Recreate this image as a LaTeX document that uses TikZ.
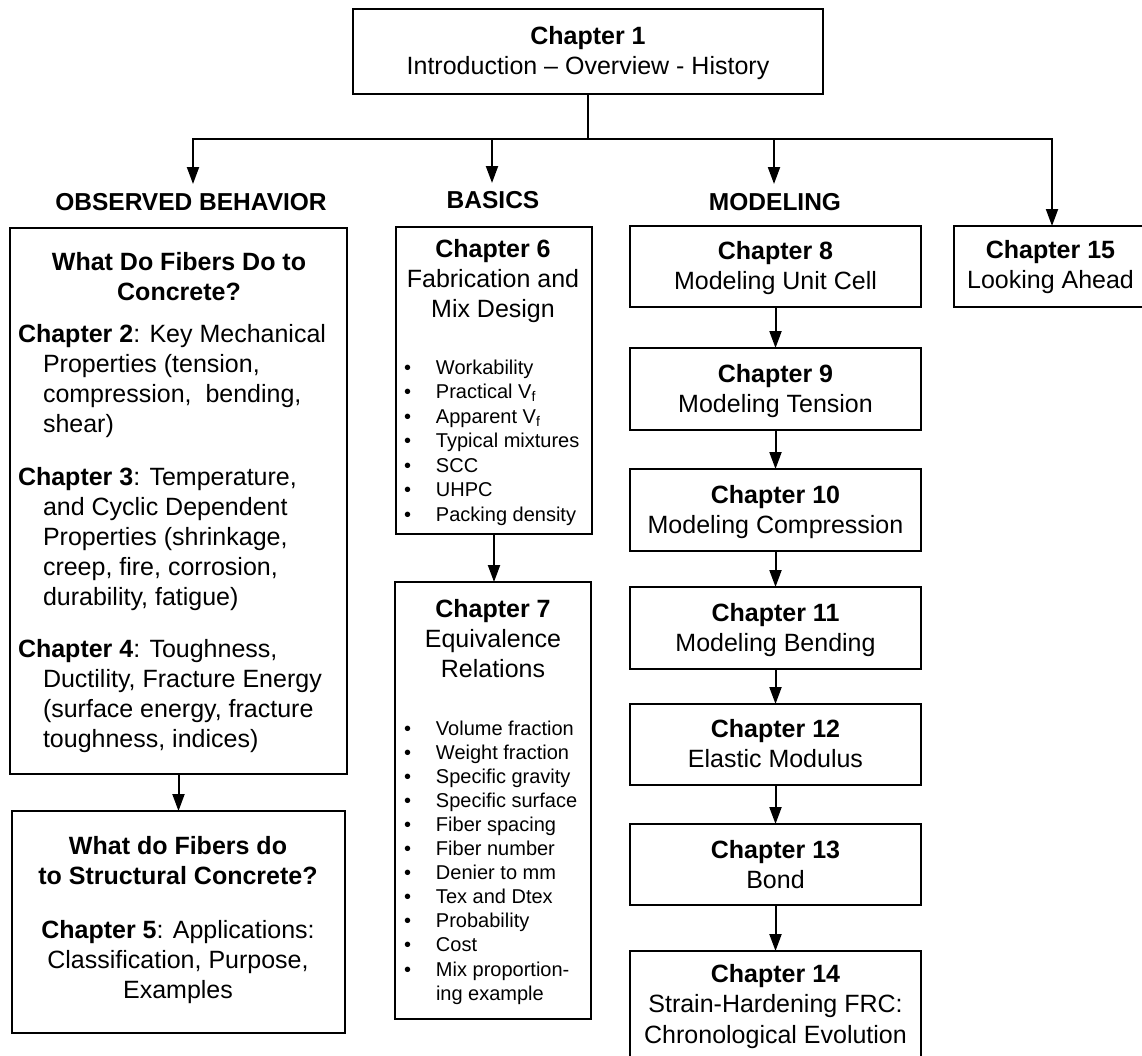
\documentclass[tikz,border=0pt]{standalone}
\usepackage{fontspec}
\setmainfont{Liberation Sans}
\usetikzlibrary{arrows.meta}
\newcommand\ctext[1]{\parbox[t]{440pt}{\centering #1}}
\newcommand\htext[1]{\parbox[t]{340pt}{\raggedright\hangindent=25pt\hangafter=1 #1}}
\newcommand\bitem{\par\leavevmode\llap{\textbullet\hspace{25pt}}}
\newcommand\blist[2]{\parbox[t]{170pt}{\raggedright\fontsize{20}{#1}\selectfont #2}}
\begin{document}
\begin{tikzpicture}[x=1pt,y=-1pt,
  chbox/.style={draw,line width=2pt,inner sep=0pt,outer sep=0pt,minimum width=291pt},
  txt/.style={inner sep=0pt,outer sep=0pt,anchor=base,font=\fontsize{25}{30}\selectfont},
  btxt/.style={txt,font=\fontsize{25}{30}\selectfont\bfseries},
  ltxt/.style={txt,anchor=base west},
  head/.style={inner sep=0pt,outer sep=0pt,anchor=base,font=\fontsize{24.5}{30}\selectfont\bfseries},
  conn/.style={line width=2pt},
  arr/.style={conn,-{Triangle[length=17pt,width=12pt]}}]
\clip (0,0) rectangle (1142,1055);
\useasboundingbox (0,0) rectangle (1142,1055);

% Chapter 1
\node[chbox,minimum width=470pt,minimum height=85pt] (c1) at (588,51.5) {};
\node[txt] (c1t) at (588,44) {\ctext{\textbf{Chapter 1}\\Introduction – Overview - History}};

% headings
\node[head] (hobs) at (191,210) {OBSERVED BEHAVIOR};
\node[head] (hbas) at (493,208) {BASICS};
\node[head] (hmod) at (775,210) {MODELING};

% observed behavior
\node[chbox,minimum width=337pt,minimum height=546pt] (obs) at (178.5,501) {};
\node[btxt] (obst) at (179,270) {\ctext{What Do Fibers Do to\\Concrete?}};
\node[ltxt] (ch2) at (18,342) {\htext{\textbf{Chapter 2}: Key Mechanical\newline Properties (tension,\newline compression, \ bending,\newline shear)}};
\node[ltxt] (ch3) at (18,485.5) {\htext{\textbf{Chapter 3}: Temperature,\newline and Cyclic Dependent\newline Properties (shrinkage,\newline creep, fire, corrosion,\newline durability, fatigue)}};
\node[ltxt] (ch4) at (18,657) {\htext{\textbf{Chapter 4}: Toughness,\newline Ductility, Fracture Energy\newline (surface energy, fracture\newline toughness, indices)}};

\node[chbox,minimum width=333pt,minimum height=222pt] (str) at (178.5,922) {};
\node[btxt] (strt) at (178,854) {\ctext{What do Fibers do\\to Structural Concrete?}};
\node[txt] (ch5) at (178,938) {\ctext{\textbf{Chapter 5}: Applications:\\Classification, Purpose,\\Examples}};

% basics
\node[chbox,minimum width=196pt,minimum height=307pt] (c6) at (494,380.5) {};
\node[txt] (c6t) at (493,257) {\ctext{\textbf{Chapter 6}\\Fabrication and\\Mix Design}};
\node[ltxt] (c6l) at (436,374) {\blist{24.5}{\bitem Workability\bitem Practical V\textsubscript{f}\bitem Apparent V\textsubscript{f}\bitem Typical mixtures\bitem SCC\bitem UHPC\bitem Packing density}};

\node[chbox,minimum width=196pt,minimum height=437pt] (c7) at (493,800.5) {};
\node[txt] (c7t) at (493,617) {\ctext{\textbf{Chapter 7}\\Equivalence\\Relations}};
\node[ltxt] (c7l) at (436,735) {\blist{24.1}{\bitem Volume fraction\bitem Weight fraction\bitem Specific gravity\bitem Specific surface\bitem Fiber spacing\bitem Fiber number\bitem Denier to mm\bitem Tex and Dtex\bitem Probability\bitem Cost\bitem Mix proportion-\\ing example}};

% modeling
\node[chbox,minimum height=81pt] (c8) at (775.5,266.5) {};
\node[txt] (c8t) at (775.5,259) {\ctext{\textbf{Chapter 8}\\Modeling Unit Cell}};
\node[chbox,minimum height=82pt] (c9) at (775.5,389) {};
\node[txt] (c9t) at (775.5,382) {\ctext{\textbf{Chapter 9}\\Modeling Tension}};
\node[chbox,minimum height=82pt] (c10) at (775.5,510) {};
\node[txt] (c10t) at (775.5,503) {\ctext{\textbf{Chapter 10}\\Modeling Compression}};
\node[chbox,minimum height=82pt] (c11) at (775.5,628) {};
\node[txt] (c11t) at (775.5,621.5) {\ctext{\textbf{Chapter 11}\\Modeling Bending}};
\node[chbox,minimum height=81pt] (c12) at (775.5,744.5) {};
\node[txt] (c12t) at (775.5,737) {\ctext{\textbf{Chapter 12}\\Elastic Modulus}};
\node[chbox,minimum height=81pt] (c13) at (775.5,864.5) {};
\node[txt] (c13t) at (775.5,858) {\ctext{\textbf{Chapter 13}\\Bond}};
\node[chbox,minimum height=124pt] (c14) at (775.5,1013) {};
\node[txt,font=\fontsize{25}{30.8}\selectfont] (c14t) at (775.5,982) {\ctext{\textbf{Chapter 14}\\Strain-Hardening FRC:\\Chronological Evolution}};

% chapter 15
\node[chbox,minimum width=206pt,minimum height=81pt] (c15) at (1057,266.5) {};
\node[txt] (c15t) at (1050.5,258) {\ctext{\textbf{Chapter 15}\\Looking Ahead}};

% connectors
\coordinate (hub) at (588,139);
\coordinate (jl) at (193,139);
\coordinate (jb) at (492,139);
\coordinate (jm) at (774,139);
\coordinate (jr) at (1052,139);
\coordinate (tl) at (193,184);
\coordinate (tb) at (492,183);
\coordinate (tm) at (774,184);
\draw[conn] (c1.south) -- (hub);
\draw[conn,line cap=rect] (jl) -- (jr);
\draw[arr] (jl) -- (tl);
\draw[arr] (jb) -- (tb);
\draw[arr] (jm) -- (tm);
\draw[arr] (jr) -- (jr |- c15.north);
\draw[arr] (obs.south) -- (str.north);
\draw[arr] (c6.south) -- (c6.south |- c7.north);
\draw[arr] (c8.south) -- (c9.north);
\draw[arr] (c9.south) -- (c10.north);
\draw[arr] (c10.south) -- (c11.north);
\draw[arr] (c11.south) -- (c12.north);
\draw[arr] (c12.south) -- (c13.north);
\draw[arr] (c13.south) -- (c14.north);
\end{tikzpicture}
\end{document}
